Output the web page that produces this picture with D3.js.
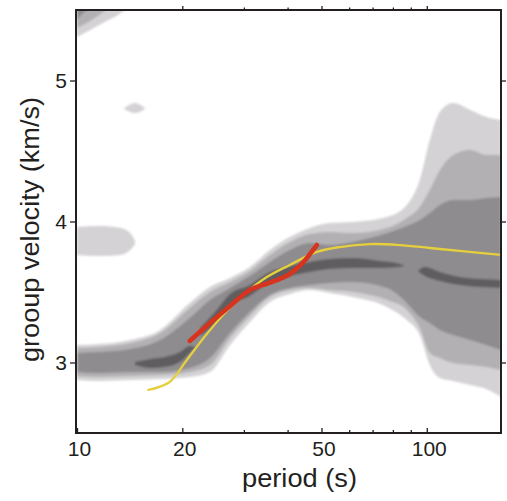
<!DOCTYPE html>
<html><head><meta charset="utf-8">
<script src="https://cdn.jsdelivr.net/npm/d3@7"></script>
<style>
body{margin:0;background:#fff}
svg{display:block}
text{font-family:"Liberation Sans",Arial,Helvetica,sans-serif;fill:#231f20}
</style>
</head><body>
<svg id="chart" width="507" height="501"></svg>
<script>
// ---------- data (period in s, group velocity in km/s) ----------
const bandPeriods = [10, 11.6, 14.2, 17.3, 21, 24, 27.4, 31.2, 35.6, 40.6, 46.3, 52.8, 61.5, 77, 87.7, 95.5, 102, 109, 119, 133, 148, 163];
const level1Upper = [3.124, 3.131, 3.160, 3.231, 3.422, 3.535, 3.599, 3.677, 3.798, 3.890, 3.954, 3.989, 3.996, 4.032, 4.117, 4.294, 4.578, 4.777, 4.840, 4.791, 4.741, 4.720];
const level1Lower = [2.876, 2.869, 2.876, 2.883, 2.897, 2.933, 3.124, 3.287, 3.429, 3.486, 3.514, 3.493, 3.465, 3.394, 3.301, 3.195, 2.982, 2.890, 2.869, 2.840, 2.812, 2.755];
const level2Upper = [3.103, 3.110, 3.138, 3.209, 3.386, 3.500, 3.571, 3.649, 3.762, 3.855, 3.911, 3.926, 3.918, 3.954, 4.025, 4.103, 4.223, 4.365, 4.472, 4.507, 4.472, 4.472];
const level2Lower = [2.904, 2.897, 2.904, 2.911, 2.933, 2.982, 3.174, 3.330, 3.465, 3.514, 3.528, 3.514, 3.500, 3.443, 3.372, 3.245, 3.067, 3.032, 2.996, 2.982, 2.968, 2.947];
const level3Upper = [3.067, 3.074, 3.096, 3.160, 3.316, 3.443, 3.528, 3.613, 3.713, 3.798, 3.847, 3.833, 3.855, 3.918, 3.968, 4.011, 4.060, 4.117, 4.152, 4.152, 4.167, 4.174];
const level3Lower = [2.933, 2.926, 2.933, 2.933, 2.961, 3.032, 3.209, 3.358, 3.479, 3.528, 3.550, 3.564, 3.571, 3.528, 3.422, 3.323, 3.280, 3.231, 3.195, 3.160, 3.124, 3.089];

// darkest streaks
const streakAPeriods = [14.65, 16.2, 17.8, 19.7, 21.0, 21.7];
const streakAUpper   = [3.003, 3.025, 3.039, 3.074, 3.117, 3.110];
const streakALower   = [2.982, 2.961, 2.968, 3.003, 3.067, 3.103];
const streakBPeriods = [22.5, 24.8, 27.4, 31.2, 35.6, 40.6, 46.3, 52.8, 61.5, 73.4, 83.7, 86.5];
const streakBUpper   = [3.245, 3.358, 3.486, 3.550, 3.642, 3.684, 3.713, 3.734, 3.741, 3.720, 3.699, 3.688];
const streakBLower   = [3.188, 3.273, 3.408, 3.472, 3.571, 3.613, 3.642, 3.663, 3.670, 3.670, 3.677, 3.688];
const streakDPeriods = [94.3, 98.7, 109, 124, 142, 163];
const streakDUpper   = [3.649, 3.677, 3.642, 3.606, 3.592, 3.585];
const streakDLower   = [3.649, 3.613, 3.578, 3.550, 3.535, 3.528];

// isolated patches
const cornerPeriods1 = [10, 10.9, 12.0, 13.1, 13.7];
const cornerLower1   = [5.308, 5.358, 5.415, 5.465, 5.500];
const cornerPeriods2 = [10, 10.9, 11.9, 12.1];
const cornerLower2   = [5.372, 5.422, 5.486, 5.500];
const cornerPeriods3 = [10, 10.5, 10.75];
const cornerLower3   = [5.429, 5.486, 5.500];
const patchLeftPeriods = [10, 11.6, 13.3, 14.2, 14.65];
const patchLeftUpper   = [3.961, 3.968, 3.954, 3.918, 3.862];
const patchLeftLower   = [3.763, 3.756, 3.763, 3.798, 3.841];
const patchSmallPeriods = [13.6, 14.2, 14.65, 15.1, 15.7];
const patchSmallUpper   = [4.801, 4.830, 4.840, 4.830, 4.801];
const patchSmallLower   = [4.801, 4.777, 4.770, 4.777, 4.801];

// dispersion curves
const yellowPeriods  = [16.0, 18.4, 20.6, 23.5, 26.8, 30.6, 34.9, 40.6, 48.5, 56.4, 68.7, 83.7, 102, 124, 163];
const yellowVelocity = [2.805, 2.862, 3.018, 3.202, 3.365, 3.500, 3.606, 3.692, 3.784, 3.819, 3.840, 3.833, 3.812, 3.791, 3.763];
const redPeriods  = [21.0, 24.0, 27.4, 31.2, 34.0, 37.3, 40.6, 44.2, 47.3, 48.5];
const redVelocity = [3.153, 3.280, 3.401, 3.514, 3.550, 3.585, 3.628, 3.706, 3.798, 3.833];

// ticks
const xMajorTicks = [10, 20, 50, 100];
const xMinorTicks = [30, 40, 60, 70, 80, 90];
const yTicks = [3, 4, 5];

const levelColors = ["#d4d2d4", "#b2b0b2", "#8e8c8e", "#5f5d5f"];

// ---------- drawing ----------
const svg = d3.select("#chart");
const x = d3.scaleLog().domain([10, 163]).range([77, 501]);
const y = d3.scaleLinear().domain([2.5, 5.5]).range([433, 10]);
const plotLeft = 76, plotRight = 501, plotTop = 10, plotBottom = 433;

const defs = svg.append("defs");
defs.append("clipPath").attr("id", "plotclip")
  .append("rect").attr("x", plotLeft).attr("y", plotTop)
  .attr("width", plotRight - plotLeft).attr("height", plotBottom - plotTop);
defs.append("filter").attr("id", "soft")
  .attr("x", "-5%").attr("y", "-5%").attr("width", "110%").attr("height", "110%")
  .append("feGaussianBlur").attr("stdDeviation", 1.1);

const clipG = svg.append("g").attr("clip-path", "url(#plotclip)");
const fieldG = clipG.append("g").attr("filter", "url(#soft)");

const area = d3.area()
  .x(d => x(d.p)).y0(d => y(d.lo)).y1(d => y(d.hi))
  .curve(d3.curveMonotoneX);

function band(periods, upper, lower) {
  return periods.map((p, i) => ({p: p, hi: upper[i], lo: lower[i]}));
}
function cornerBand(periods, lower) {
  return periods.map((p, i) => ({p: p, hi: 5.7, lo: lower[i]}));
}

const shapes = [
  {level: 0, data: band(bandPeriods, level1Upper, level1Lower)},
  {level: 0, data: cornerBand(cornerPeriods1, cornerLower1)},
  {level: 0, data: band(patchLeftPeriods, patchLeftUpper, patchLeftLower)},
  {level: 0, data: band(patchSmallPeriods, patchSmallUpper, patchSmallLower)},
  {level: 1, data: band(bandPeriods, level2Upper, level2Lower)},
  {level: 1, data: cornerBand(cornerPeriods2, cornerLower2)},
  {level: 2, data: band(bandPeriods, level3Upper, level3Lower)},
  {level: 2, data: cornerBand(cornerPeriods3, cornerLower3)},
  {level: 3, data: band(streakAPeriods, streakAUpper, streakALower)},
  {level: 3, data: band(streakBPeriods, streakBUpper, streakBLower)},
  {level: 3, data: band(streakDPeriods, streakDUpper, streakDLower)}
];

fieldG.selectAll("path.lvl").data(shapes).join("path")
  .attr("class", "lvl")
  .attr("d", d => area(d.data))
  .attr("fill", d => levelColors[d.level]);

const line = d3.line().x(d => x(d.p)).y(d => y(d.v)).curve(d3.curveCatmullRom.alpha(0.5));

clipG.append("path")
  .attr("d", line(yellowPeriods.map((p, i) => ({p: p, v: yellowVelocity[i]}))))
  .attr("fill", "none").attr("stroke", "#e6cf3e").attr("stroke-width", 2.3)
  .attr("stroke-linecap", "round");

clipG.append("path")
  .attr("d", line(redPeriods.map((p, i) => ({p: p, v: redVelocity[i]}))))
  .attr("fill", "none").attr("stroke", "#d7341f").attr("stroke-width", 4.6)
  .attr("stroke-linecap", "round").attr("stroke-linejoin", "round");

// frame
svg.append("rect").attr("x", plotLeft).attr("y", plotTop)
  .attr("width", plotRight - plotLeft).attr("height", plotBottom - plotTop)
  .attr("fill", "none").attr("stroke", "#231f20").attr("stroke-width", 2);

function styleAxis(g) {
  g.select(".domain").remove();
  g.selectAll(".tick line").attr("stroke", "#231f20").attr("stroke-width", 1.3);
}

// bottom axis (ticks inward)
svg.append("g").attr("transform", `translate(0,${plotBottom})`)
  .call(d3.axisBottom(x).tickValues(xMajorTicks).tickSize(-5).tickPadding(8).tickFormat(d3.format("d")))
  .call(styleAxis)
  .call(g => g.selectAll(".tick text").attr("font-size", 21).attr("dx", 2).attr("fill", "#231f20"));
svg.append("g").attr("transform", `translate(0,${plotBottom})`)
  .call(d3.axisBottom(x).tickValues(xMinorTicks).tickSize(-3).tickFormat(""))
  .call(styleAxis);

// top axis (ticks outward)
svg.append("g").attr("transform", `translate(0,${plotTop})`)
  .call(d3.axisTop(x).tickValues(xMajorTicks.filter(t => t > 10)).tickSize(4).tickFormat(""))
  .call(styleAxis);
svg.append("g").attr("transform", `translate(0,${plotTop})`)
  .call(d3.axisTop(x).tickValues(xMinorTicks).tickSize(2.5).tickFormat(""))
  .call(styleAxis);

// left axis
svg.append("g").attr("transform", `translate(${plotLeft},0)`)
  .call(d3.axisLeft(y).tickValues(yTicks).tickSize(6).tickPadding(3).tickFormat(d3.format("d")))
  .call(styleAxis)
  .call(g => g.selectAll(".tick text").attr("font-size", 21).attr("fill", "#231f20"));

// right axis
svg.append("g").attr("transform", `translate(${plotRight},0)`)
  .call(d3.axisRight(y).tickValues(yTicks).tickSize(5).tickFormat(""))
  .call(styleAxis);

// axis titles
svg.append("text")
  .attr("x", 299.5).attr("y", 487)
  .attr("text-anchor", "middle").attr("font-size", 25)
  .attr("textLength", 115).attr("lengthAdjust", "spacingAndGlyphs")
  .text("period (s)");

svg.append("text")
  .attr("transform", "translate(39,229.5) rotate(-90)")
  .attr("text-anchor", "middle").attr("font-size", 25)
  .attr("textLength", 265).attr("lengthAdjust", "spacingAndGlyphs")
  .text("grooup velocity (km/s)");

d3.selectAll(".tick text").attr("font-family", null);
</script>
</body></html>
